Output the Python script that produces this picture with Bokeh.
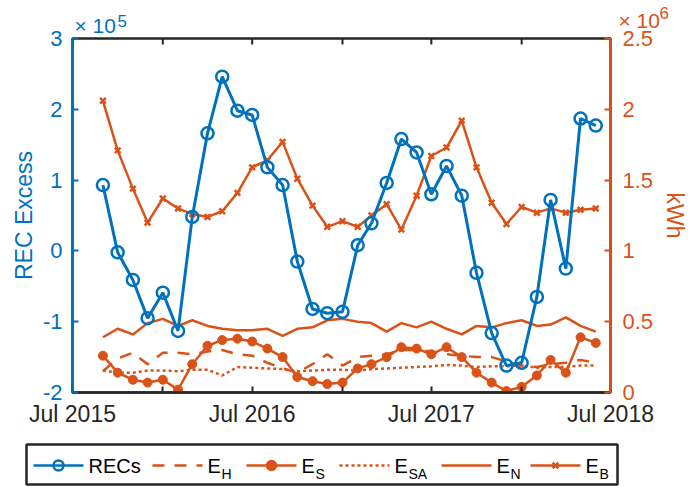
import pandas as pd
from bokeh.plotting import figure
from bokeh.models import (Range1d, LinearAxis, FixedTicker,
                          CustomJSTickFormatter, ColumnDataSource)
from bokeh.embed import file_html
from bokeh.resources import INLINE
from bokeh.core.properties import value

# ---------------- data ----------------
months = pd.date_range("2015-09-01", "2018-06-01", freq="MS")   # 34 monthly points

# REC excess, in units of 1e5
rec_excess = [0.93, -0.02, -0.41, -0.95, -0.59, -1.13, 0.48, 1.66, 2.46, 1.98,
              1.92, 1.18, 0.93, -0.15, -0.82, -0.88, -0.86, 0.08, 0.39, 0.96,
              1.58, 1.39, 0.80, 1.20, 0.78, -0.31, -1.16, -1.62, -1.58, -0.65,
              0.72, -0.25, 1.87, 1.77]
# energies in kWh, in units of 1e6
e_h = [0.15, 0.24, 0.28, 0.20, 0.28, 0.28, 0.27, 0.29, 0.30, 0.27,
       0.26, 0.21, 0.17, 0.14, 0.20, 0.27, 0.19, 0.25, 0.26, 0.27,
       0.30, 0.30, 0.29, 0.27, 0.26, 0.25, 0.25, 0.22, 0.19, 0.18,
       0.20, 0.21, 0.23, 0.21]
e_s = [0.26, 0.14, 0.09, 0.07, 0.09, 0.02, 0.20, 0.33, 0.37, 0.38,
       0.36, 0.31, 0.25, 0.11, 0.08, 0.06, 0.07, 0.17, 0.20, 0.25,
       0.32, 0.31, 0.27, 0.32, 0.25, 0.14, 0.07, 0.01, 0.04, 0.12,
       0.23, 0.14, 0.39, 0.35]
e_sa = [0.155, 0.14, 0.14, 0.155, 0.155, 0.15, 0.16, 0.16, 0.12, 0.18,
        0.175, 0.17, 0.165, 0.15, 0.155, 0.16, 0.16, 0.155, 0.165, 0.17,
        0.175, 0.18, 0.185, 0.195, 0.19, 0.18, 0.185, 0.185, 0.19, 0.175,
        0.18, 0.18, 0.19, 0.19]
e_n = [0.39, 0.45, 0.41, 0.49, 0.52, 0.47, 0.51, 0.47, 0.45, 0.44,
       0.44, 0.45, 0.40, 0.45, 0.46, 0.51, 0.52, 0.50, 0.49, 0.43,
       0.49, 0.46, 0.50, 0.45, 0.41, 0.47, 0.46, 0.49, 0.51, 0.47,
       0.48, 0.53, 0.47, 0.43]
e_b = [2.06, 1.71, 1.44, 1.20, 1.37, 1.30, 1.26, 1.24, 1.28, 1.41,
       1.59, 1.64, 1.77, 1.51, 1.32, 1.17, 1.21, 1.17, 1.25, 1.33,
       1.15, 1.39, 1.67, 1.73, 1.92, 1.59, 1.34, 1.19, 1.31, 1.27,
       1.30, 1.27, 1.29, 1.30]

left_ticks = [-2, -1, 0, 1, 2, 3]
right_ticks = [0, 0.5, 1, 1.5, 2, 2.5]
x_tick_dates = pd.date_range("2015-07-01", "2018-07-01", freq="6MS")
left_exp = "5"
right_exp = "6"
legend_labels = ["RECs", "E", "E", "E", "E", "E"]
legend_subs = ["", "H", "S", "SA", "N", "B"]

# ---------------- style ----------------
BLUE = "#0072BD"
ORANGE = "#D95319"
DARK = "#262626"
FONT = "Liberation Sans"
W = 691

def ms(t):
    return pd.Timestamp(t).timestamp() * 1000.0

x0 = ms("2015-07-01")
x1 = ms("2018-07-01")
x_ticks = [ms(t) for t in x_tick_dates]

def no_title(fig):
    try:
        fig.title = None
    except Exception:
        fig.title.visible = False

def place(fig, top):
    fig.styles = {"position": "absolute", "left": "0px", "top": f"{top}px"}

# ---------------- main chart ----------------
src = ColumnDataSource(dict(x=months, rec=rec_excess, eh=e_h, es=e_s,
                            esa=e_sa, en=e_n, eb=e_b))

p = figure(width=W, height=440, x_axis_type="datetime",
           x_range=Range1d(x0, x1), y_range=Range1d(-2, 3),
           output_backend="svg", toolbar_location=None,
           min_border_left=72, min_border_right=79,
           min_border_top=38, min_border_bottom=48)
no_title(p)
place(p, 0)
p.extra_y_ranges = {"kwh": Range1d(0, 2.5)}
# box: top edge from the frame outline, sides covered by the coloured axes
p.outline_line_color = DARK
p.outline_line_width = 2.5
p.xgrid.visible = False
p.ygrid.visible = False

xfmt = CustomJSTickFormatter(code="""
const d = new Date(tick);
return d.getUTCMonth() == 6 ? "Jul " + d.getUTCFullYear() : "";
""")

def style_axis(ax, color, font_size="22px"):
    ax.axis_line_color = color
    ax.axis_line_width = 2.5
    ax.major_tick_line_color = color
    ax.major_tick_line_width = 2
    ax.major_tick_in = 6
    ax.major_tick_out = 0
    ax.minor_tick_line_color = None
    ax.major_label_text_color = color
    ax.major_label_text_font = FONT
    ax.major_label_text_font_size = font_size
    ax.axis_label_text_color = color
    ax.axis_label_text_font = FONT
    ax.axis_label_text_font_size = "23px"
    ax.axis_label_text_font_style = "normal"

# bottom axis
xa = p.xaxis[0]
xa.ticker = FixedTicker(ticks=x_ticks)
xa.formatter = xfmt
style_axis(xa, DARK, "23px")
xa.major_label_standoff = 8

# inward ticks on the top edge of the box (same tick positions)
tick_len = 6 * (3 - (-2)) / 354.0
p.segment(x0=x_ticks, y0=[3] * len(x_ticks), x1=x_ticks,
          y1=[3 - tick_len] * len(x_ticks), line_color=DARK, line_width=2)

# left axis
ya = p.yaxis[0]
ya.ticker = FixedTicker(ticks=left_ticks)
ya.formatter = CustomJSTickFormatter(code="return String(tick);")
style_axis(ya, BLUE)
ya.axis_label = "REC Excess"
ya.major_label_standoff = 10
ya.axis_label_standoff = 3

# right axis
ra = LinearAxis(y_range_name="kwh", ticker=FixedTicker(ticks=right_ticks),
                formatter=CustomJSTickFormatter(code="return String(tick);"),
                axis_label="kWh")
style_axis(ra, ORANGE)
ra.major_label_standoff = 12
ra.axis_label_standoff = 6
p.add_layout(ra, "right")

# series
p.line("x", "eh", source=src, y_range_name="kwh", color=ORANGE,
       line_width=2.5, line_dash="12 10")
p.line("x", "esa", source=src, y_range_name="kwh", color=ORANGE,
       line_width=2.5, line_dash="3 3")
p.line("x", "en", source=src, y_range_name="kwh", color=ORANGE, line_width=2.5)
p.line("x", "es", source=src, y_range_name="kwh", color=ORANGE, line_width=2.5)
p.scatter("x", "es", source=src, y_range_name="kwh", marker="circle", size=9,
          fill_color=ORANGE, line_color=ORANGE)
p.line("x", "eb", source=src, y_range_name="kwh", color=ORANGE, line_width=2.5)
p.scatter("x", "eb", source=src, y_range_name="kwh", marker="x", size=8,
          line_color=ORANGE, line_width=2.5)
p.line("x", "rec", source=src, color=BLUE, line_width=3)
p.scatter("x", "rec", source=src, marker="circle", size=12, fill_color=None,
          line_color=BLUE, line_width=2.5)

# ---------------- header: exponent texts (transparent overlay) ----------------
hdr = figure(width=W, height=36, x_range=Range1d(0, W), y_range=Range1d(0, 36),
             output_backend="svg", toolbar_location=None,
             x_axis_location=None, y_axis_location=None,
             min_border_left=0, min_border_right=0, min_border_top=0,
             min_border_bottom=0)
no_title(hdr)
place(hdr, 0)
hdr.grid.visible = False
hdr.outline_line_color = None
hdr.background_fill_color = None
hdr.border_fill_color = None
hdr.text([74], [11], text=["\u00d7 10"], text_font=value(FONT), text_font_size="21px",
         text_color=BLUE, text_baseline="alphabetic")
hdr.text([117], [16], text=[left_exp], text_font=value(FONT), text_font_size="17px",
         text_color=BLUE, text_baseline="alphabetic")
hdr.text([618], [16], text=["\u00d7 10"], text_font=value(FONT), text_font_size="21px",
         text_color=ORANGE, text_baseline="alphabetic")
hdr.text([659], [24], text=[right_exp], text_font=value(FONT), text_font_size="17px",
         text_color=ORANGE, text_baseline="alphabetic")

# ---------------- legend ----------------
leg = figure(width=W, height=46, x_range=Range1d(0, 591), y_range=Range1d(0, 40),
             output_backend="svg", toolbar_location=None,
             min_border_left=26, min_border_right=74, min_border_top=4,
             min_border_bottom=2, x_axis_location=None, y_axis_location=None)
no_title(leg)
place(leg, 440)
leg.grid.visible = False
leg.outline_line_color = DARK
leg.outline_line_width = 2.5

ry = 19
item_x = [7, 126, 220, 313, 415, 504]
line_len = 50
styles = [
    dict(color=BLUE, dash="solid", marker="circle", mfill=None, msize=10),
    dict(color=ORANGE, dash="12 10", marker=None),
    dict(color=ORANGE, dash="solid", marker="circle", mfill=ORANGE, msize=9),
    dict(color=ORANGE, dash="3 3", marker=None),
    dict(color=ORANGE, dash="solid", marker=None),
    dict(color=ORANGE, dash="solid", marker="x", msize=8),
]
for lx, lab, sub, st in zip(item_x, legend_labels, legend_subs, styles):
    leg.line([lx, lx + line_len], [ry, ry], color=st["color"], line_width=2.5,
             line_dash=st["dash"])
    if st["marker"] == "circle":
        leg.scatter([lx + line_len / 2], [ry], marker="circle", size=st["msize"],
                    fill_color=st["mfill"], line_color=st["color"], line_width=2.5)
    elif st["marker"] == "x":
        leg.scatter([lx + line_len / 2], [ry], marker="x", size=st["msize"],
                    line_color=st["color"], line_width=2.5)
    tx = lx + line_len + 5
    leg.text([tx], [18.5], text=[lab], text_font=value(FONT), text_font_size="20px",
             text_baseline="alphabetic", text_color="#000000")
    if sub:
        leg.text([tx + 14], [10.5], text=[sub], text_font=value(FONT),
                 text_font_size="14px", text_baseline="alphabetic",
                 text_color="#000000")

open("out.html", "w").write(file_html([p, hdr, leg], INLINE))
